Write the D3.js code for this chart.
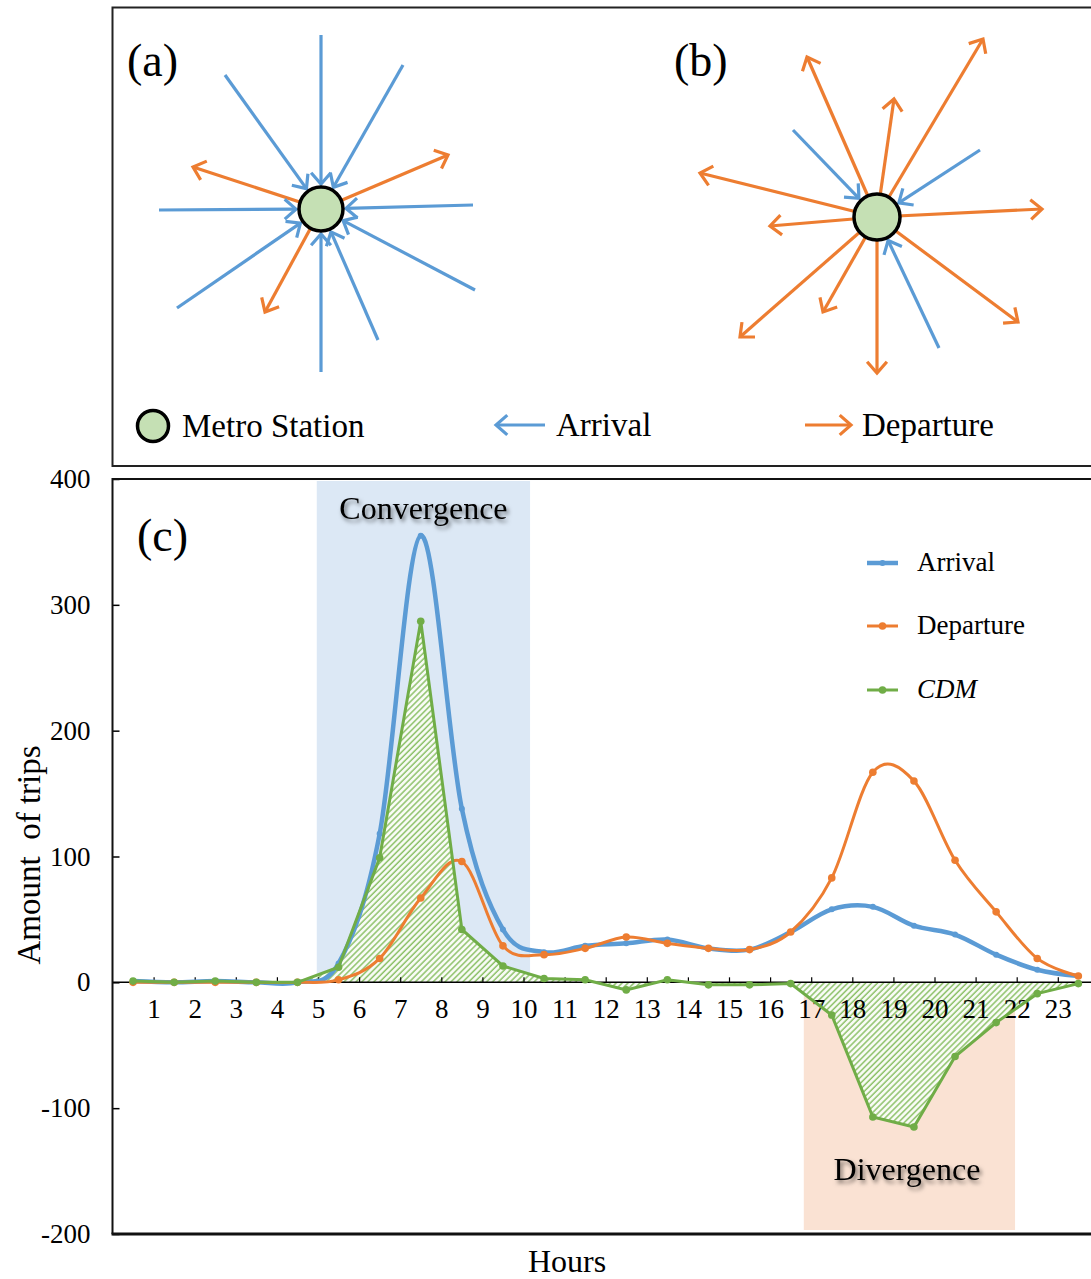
<!DOCTYPE html>
<html>
<head>
<meta charset="utf-8">
<script src="https://cdn.jsdelivr.net/npm/d3@7/dist/d3.min.js"></script>
<style>
  body { margin: 0; background: #fff; }
  svg { display: block; font-family: "Liberation Serif", "Times New Roman", serif; }
</style>
</head>
<body>
<svg id="svg"></svg>
<script>
// hours of the day (points sit at the middle of each hour)
const hours = [0.5, 1.5, 2.5, 3.5, 4.5, 5.5, 6.5, 7.5, 8.5, 9.5, 10.5, 11.5,
               12.5, 13.5, 14.5, 15.5, 16.5, 17.5, 18.5, 19.5, 20.5, 21.5, 22.5, 23.5];
const hourLabels = [1, 2, 3, 4, 5, 6, 7, 8, 9, 10, 11, 12, 13, 14, 15, 16, 17, 18, 19, 20, 21, 22, 23];
const yTicks = [-200, -100, 0, 100, 200, 300, 400];

const arrival   = [1, 0, 1, 0, 0, 15, 118, 355, 138, 42, 24, 29, 31, 34, 27, 26, 40, 58, 60, 45, 38, 22, 10, 5];
const departure = [0, 0, 0, 0, 0, 2, 19, 67, 96, 29, 22, 27, 36, 31, 27, 26, 40, 83, 167, 160, 97, 56, 19, 5];
const cdm       = [1, 0, 1, 0, 0, 12, 99, 287, 42, 13, 3, 2, -6, 2, -2, -2, -1, -26, -107, -115, -59, -32, -9, -1];

const seriesNames = ['Arrival', 'Departure', 'CDM'];
const convergenceSpan = [4.97, 10.16];
const divergenceSpan = [16.82, 21.96];

// diagram arrows, offsets from the station centre
const arrivalsA   = [[0, -174], [-96, -134], [82, -144], [-162, 1], [152, -4], [-144, 99], [0, 163], [57, 131], [154, 81]];
const departuresA = [[-128, -42], [127, -54], [-56, 103]];
const arrivalsB   = [[-84, -87], [103, -67], [62, 131]];
const departuresB = [[-70, -160], [17, -118], [106, -178], [-177, -44], [-107, 9], [165, -8], [-137, 120], [-54, 95], [0, 156], [141, 105]];

const blue = '#5b9bd5', orange = '#ed7d31', green = '#70ad47';
const stationFill = '#c5e0b4';

const W = 1091, H = 1279;
const svg = d3.select('#svg').attr('width', W).attr('height', H);

const defs = svg.append('defs');
const pat = defs.append('pattern')
  .attr('id', 'hatch')
  .attr('patternUnits', 'userSpaceOnUse')
  .attr('width', 4.2).attr('height', 4.2)
  .attr('patternTransform', 'rotate(45)');
pat.append('rect').attr('width', 4.2).attr('height', 4.2).attr('fill', '#fafcf7');
pat.append('line').attr('x1', 1).attr('y1', 0).attr('x2', 1).attr('y2', 4.2)
  .attr('stroke', '#8cc168').attr('stroke-width', 1.5);

const shadow = defs.append('filter').attr('id', 'shadow')
  .attr('x', '-20%').attr('y', '-30%').attr('width', '140%').attr('height', '180%');
shadow.append('feDropShadow').attr('dx', 2).attr('dy', 3).attr('stdDeviation', 2.2)
  .attr('flood-color', '#000').attr('flood-opacity', 0.55);

// ---------- top panel: diagrams ----------
const diagram = svg.append('g');
diagram.append('rect')
  .attr('x', 112.5).attr('y', 7.5).attr('width', 990).attr('height', 458.5)
  .attr('fill', 'none').attr('stroke', '#222').attr('stroke-width', 2);

function arrow(g, x1, y1, x2, y2, color) {
  const a = Math.atan2(y2 - y1, x2 - x1);
  const len = 15, spread = 0.72;
  g.append('line')
    .attr('x1', x1).attr('y1', y1).attr('x2', x2).attr('y2', y2)
    .attr('stroke', color).attr('stroke-width', 3.2);
  const p1 = [x2 + len * Math.cos(a + Math.PI - spread), y2 + len * Math.sin(a + Math.PI - spread)];
  const p2 = [x2 + len * Math.cos(a + Math.PI + spread), y2 + len * Math.sin(a + Math.PI + spread)];
  g.append('path')
    .attr('d', `M${p1[0]},${p1[1]}L${x2},${y2}L${p2[0]},${p2[1]}`)
    .attr('fill', 'none').attr('stroke', color).attr('stroke-width', 3.2)
    .attr('stroke-linejoin', 'miter');
}

function station(cx, cy, r, arrivals, departures) {
  const g = diagram.append('g');
  departures.forEach(d => arrow(g, cx, cy, cx + d[0], cy + d[1], orange));
  arrivals.forEach(d => {
    const l = Math.hypot(d[0], d[1]);
    const ux = d[0] / l, uy = d[1] / l;
    arrow(g, cx + d[0], cy + d[1], cx + ux * (r + 3), cy + uy * (r + 3), blue);
  });
  g.append('circle').attr('cx', cx).attr('cy', cy).attr('r', r)
    .attr('fill', stationFill).attr('stroke', '#000').attr('stroke-width', 3.5);
}

station(321, 209, 22, arrivalsA, departuresA);
station(877, 217, 23, arrivalsB, departuresB);

diagram.append('text').attr('x', 127).attr('y', 76).attr('font-size', 46).text('(a)');
diagram.append('text').attr('x', 674).attr('y', 76).attr('font-size', 46).text('(b)');

// legend of the diagrams
diagram.append('circle').attr('cx', 153).attr('cy', 426).attr('r', 15.5)
  .attr('fill', stationFill).attr('stroke', '#000').attr('stroke-width', 3.5);
diagram.append('text').attr('x', 182).attr('y', 437).attr('font-size', 33).text('Metro Station');
arrow(diagram, 545, 425, 496, 425, blue);
diagram.append('text').attr('x', 556).attr('y', 436).attr('font-size', 33).text('Arrival');
arrow(diagram, 805, 425, 851, 425, orange);
diagram.append('text').attr('x', 862).attr('y', 436).attr('font-size', 33).text('Departure');

// ---------- bottom panel: chart ----------
const x = d3.scaleLinear().domain([0, 24]).range([112.5, 1098.9]);
const y = d3.scaleLinear().domain([-200, 400]).range([1234, 479]);

const chart = svg.append('g');

chart.append('rect')
  .attr('x', x(convergenceSpan[0])).attr('y', y(400) + 2)
  .attr('width', x(convergenceSpan[1]) - x(convergenceSpan[0]))
  .attr('height', y(0) - y(400) - 2)
  .attr('fill', '#dce8f5');
chart.append('rect')
  .attr('x', x(divergenceSpan[0])).attr('y', y(0))
  .attr('width', x(divergenceSpan[1]) - x(divergenceSpan[0]))
  .attr('height', y(-200) - y(0) - 4)
  .attr('fill', '#fae2d3');

const pts = hours.map((h, i) => ({ h, a: arrival[i], d: departure[i], c: cdm[i] }));

chart.append('path').datum(pts)
  .attr('d', d3.area().x(p => x(p.h)).y0(y(0)).y1(p => y(p.c)))
  .attr('fill', 'url(#hatch)');

// axes
const yAxis = d3.axisLeft(y).tickValues(yTicks).tickFormat(d => String(d))
  .tickSizeInner(-7).tickSizeOuter(0).tickPadding(22);
const gy = chart.append('g').attr('transform', `translate(${x(0)},0)`).call(yAxis);
gy.select('.domain').remove();
gy.selectAll('.tick line').attr('stroke', '#000').attr('stroke-width', 1.5);
gy.selectAll('.tick text').attr('font-size', 27).attr('font-family', '"Liberation Serif", serif').attr('fill', '#000');

const xAxis = d3.axisBottom(x).tickValues(hourLabels).tickFormat(d => String(d))
  .tickSizeInner(-5).tickSizeOuter(0).tickPadding(17);
const gx = chart.append('g').attr('transform', `translate(0,${y(0)})`).call(xAxis);
gx.select('.domain').remove();
gx.selectAll('.tick line').attr('stroke', '#000').attr('stroke-width', 1.2);
gx.selectAll('.tick text').attr('font-size', 27).attr('font-family', '"Liberation Serif", serif').attr('fill', '#000');

chart.append('line').attr('x1', x(0)).attr('x2', W + 5).attr('y1', y(0)).attr('y2', y(0))
  .attr('stroke', '#000').attr('stroke-width', 1.5);

// plot frame
chart.append('path')
  .attr('d', `M${W + 5},${y(400)}H${x(0)}V${y(-200)}`)
  .attr('fill', 'none').attr('stroke', '#111').attr('stroke-width', 2);
chart.append('line').attr('x1', x(0) - 1).attr('x2', W + 5).attr('y1', y(-200)).attr('y2', y(-200))
  .attr('stroke', '#111').attr('stroke-width', 3);

// series
const series = [
  { key: 'a', color: blue, width: 4.5, r: 3, curve: true },
  { key: 'd', color: orange, width: 3, r: 3.8, curve: true },
  { key: 'c', color: green, width: 3, r: 3.8, curve: false }
];
series.forEach(s => {
  const line = d3.line().x(p => x(p.h)).y(p => y(p[s.key]))
    .curve(s.curve ? d3.curveCatmullRom.alpha(0) : d3.curveLinear);
  chart.append('path').datum(pts)
    .attr('d', line)
    .attr('fill', 'none').attr('stroke', s.color).attr('stroke-width', s.width);
  chart.append('g').selectAll('circle').data(pts).enter().append('circle')
    .attr('cx', p => x(p.h)).attr('cy', p => y(p[s.key])).attr('r', s.r)
    .attr('fill', s.color);
});

// labels
chart.append('text').attr('x', 137).attr('y', 551).attr('font-size', 46).text('(c)');
chart.append('text').attr('x', (x(convergenceSpan[0]) + x(convergenceSpan[1])) / 2).attr('y', 519)
  .attr('text-anchor', 'middle').attr('font-size', 32).attr('filter', 'url(#shadow)').text('Convergence');
chart.append('text').attr('x', 907).attr('y', 1180)
  .attr('text-anchor', 'middle').attr('font-size', 32).attr('filter', 'url(#shadow)').text('Divergence');

chart.append('text').attr('transform', 'translate(40,855) rotate(-90)')
  .attr('text-anchor', 'middle').attr('font-size', 33).style('white-space', 'pre').text('Amount  of trips');
chart.append('text').attr('x', 567).attr('y', 1272)
  .attr('text-anchor', 'middle').attr('font-size', 32).text('Hours');

// legend
const legendY = [563, 626, 690];
series.forEach((s, i) => {
  const lg = chart.append('g').attr('transform', `translate(867,${legendY[i]})`);
  lg.append('line').attr('x1', 0).attr('x2', 31).attr('stroke', s.color).attr('stroke-width', s.width);
  lg.append('circle').attr('cx', 15.5).attr('r', s.r).attr('fill', s.color);
  lg.append('text').attr('x', 50).attr('y', 8).attr('font-size', 27)
    .attr('font-style', i === 2 ? 'italic' : null).text(seriesNames[i]);
});
</script>
</body>
</html>
